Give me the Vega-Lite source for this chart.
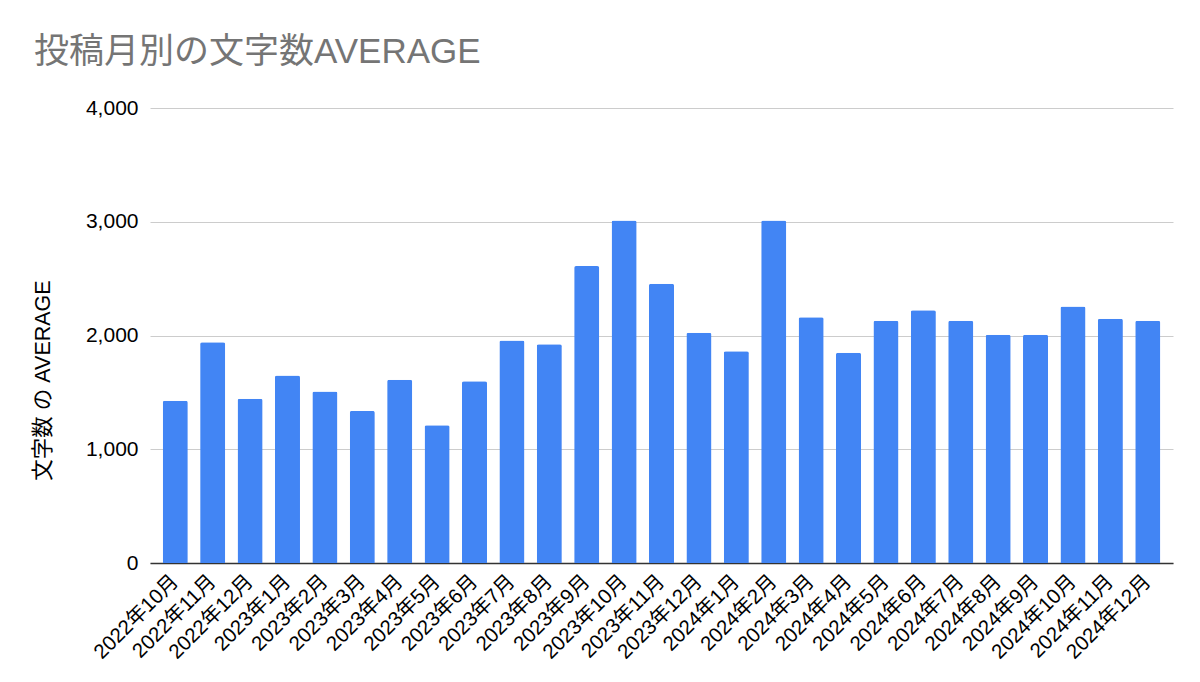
{
  "$schema": "https://vega.github.io/schema/vega-lite/v6.json",
  "autosize": "none",
  "width": 1023,
  "height": 455,
  "padding": {"left": 150, "top": 108, "right": 27, "bottom": 119},
  "background": "white",
  "config": {
    "font": "Liberation Sans, Noto Sans CJK JP",
    "view": {"stroke": null}
  },
  "title": {
    "text": "投稿月別の文字数AVERAGE",
    "anchor": "start",
    "frame": "group",
    "dx": -116,
    "fontSize": 35,
    "fontWeight": "normal",
    "color": "#757575",
    "baseline": "alphabetic",
    "offset": -1,
    "font": "Liberation Sans, Noto Sans CJK JP"
  },
  "data": {
    "values": [
      {"month": "2022年10月", "avg": 1427},
      {"month": "2022年11月", "avg": 1941},
      {"month": "2022年12月", "avg": 1445},
      {"month": "2023年1月", "avg": 1648},
      {"month": "2023年2月", "avg": 1507},
      {"month": "2023年3月", "avg": 1337},
      {"month": "2023年4月", "avg": 1612},
      {"month": "2023年5月", "avg": 1210},
      {"month": "2023年6月", "avg": 1597},
      {"month": "2023年7月", "avg": 1956},
      {"month": "2023年8月", "avg": 1923},
      {"month": "2023年9月", "avg": 2610},
      {"month": "2023年10月", "avg": 3010},
      {"month": "2023年11月", "avg": 2455},
      {"month": "2023年12月", "avg": 2024},
      {"month": "2024年1月", "avg": 1862},
      {"month": "2024年2月", "avg": 3010},
      {"month": "2024年3月", "avg": 2161},
      {"month": "2024年4月", "avg": 1848},
      {"month": "2024年5月", "avg": 2130},
      {"month": "2024年6月", "avg": 2223},
      {"month": "2024年7月", "avg": 2130},
      {"month": "2024年8月", "avg": 2006},
      {"month": "2024年9月", "avg": 2006},
      {"month": "2024年10月", "avg": 2256},
      {"month": "2024年11月", "avg": 2147},
      {"month": "2024年12月", "avg": 2130}
    ]
  },
  "mark": {
    "type": "bar",
    "color": "#4285F4",
    "cornerRadiusTopLeft": 2,
    "cornerRadiusTopRight": 2
  },
  "encoding": {
    "x": {
      "field": "month",
      "type": "nominal",
      "sort": null,
      "scale": {"paddingInner": 0.33, "paddingOuter": 0.34},
      "axis": {
        "title": null,
        "labelAngle": -45,
        "labelAlign": "right",
        "labelBaseline": "middle",
        "labelFontSize": 20.5,
        "labelColor": "#000000",
        "labelPadding": 15,
        "ticks": false,
        "domain": true,
        "domainColor": "#333333",
        "domainWidth": 1.5,
        "grid": false
      }
    },
    "y": {
      "field": "avg",
      "type": "quantitative",
      "scale": {"domain": [0, 4000], "nice": false},
      "axis": {
        "title": "文字数 の AVERAGE",
        "titleFontSize": 21.5,
        "titleFontWeight": "normal",
        "titleColor": "#000000",
        "titleX": -107,
        "titleY": 272,
        "titleAngle": -90,
        "titleAlign": "center",
        "titleBaseline": "middle",
        "values": [0, 1000, 2000, 3000, 4000],
        "format": ",.0f",
        "labelFontSize": 21,
        "labelColor": "#000000",
        "labelPadding": 12,
        "ticks": false,
        "domain": false,
        "grid": true,
        "gridColor": "#cccccc",
        "gridWidth": 1
      }
    }
  }
}
